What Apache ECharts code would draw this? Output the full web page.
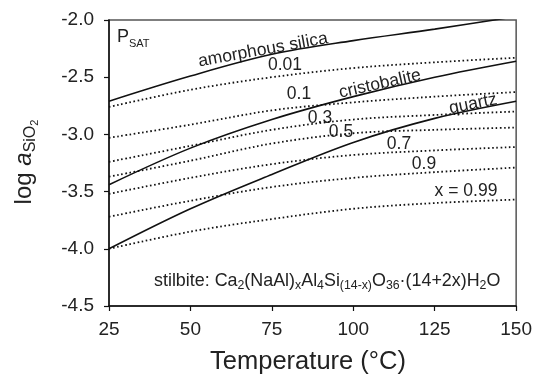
<!DOCTYPE html>
<html><head><meta charset="utf-8">
<script src="https://cdn.jsdelivr.net/npm/echarts@6/dist/echarts.min.js"></script>
<style>html,body{margin:0;padding:0;background:#fff}#c{width:535px;height:380px}</style>
</head><body><div id="c"></div>
<script>
// Temperature (°C) sample points
const temps = [25, 50, 75, 100, 125, 150];
// log a(SiO2) for silica phases (solid lines)
const amorphousSilica = [-2.71, -2.49, -2.30, -2.18, -2.08, -1.97];
const cristobalite    = [-3.44, -3.12, -2.87, -2.67, -2.50, -2.36];
const quartz          = [-4.00, -3.65, -3.35, -3.07, -2.86, -2.71];
// stilbite equilibria for composition x (dotted lines)
const x001 = [-2.76, -2.61, -2.50, -2.42, -2.37, -2.33];
const x01  = [-3.03, -2.915, -2.79, -2.72, -2.67, -2.63];
const x03  = [-3.24, -3.10, -2.96, -2.87, -2.83, -2.80];
const x05  = [-3.37, -3.23, -3.08, -2.99, -2.96, -2.94];
const x07  = [-3.52, -3.38, -3.26, -3.18, -3.14, -3.11];
const x09  = [-3.72, -3.58, -3.46, -3.38, -3.33, -3.29];
const x099 = [-4.00, -3.85, -3.74, -3.65, -3.60, -3.57];
const xTickLabels = ['25', '50', '75', '100', '125', '150'];
const yTickLabels = ['-4.5', '-4.0', '-3.5', '-3.0', '-2.5', '-2.0'];

const FONT = 'Liberation Sans, Arial, sans-serif';
const pts = arr => temps.map((t, i) => [t, arr[i]]);
const solid = (name, arr) => ({
  name, type: 'line', data: pts(arr), smooth: 0.35, symbol: 'none', silent: true,
  lineStyle: { color: '#111', width: 1.6, type: 'solid' }
});
const dotted = (name, arr) => ({
  name, type: 'line', data: pts(arr), smooth: 0.35, symbol: 'none', silent: true,
  lineStyle: { color: '#111', width: 1.8, type: [1.6, 2.6] }
});

const chart = echarts.init(document.getElementById('c'), null, { renderer: 'canvas' });

// token style; drop = pixels to shift the token's text downward (via top padding)
const tok = (size, drop, extra) => Object.assign({ fontSize: size, fontFamily: FONT, fill: '#222',
  padding: [drop * 2, 0, 0, 0] }, extra || {});

function txt(text, x, y, size, rot, align) {
  return {
    type: 'text', x, y, rotation: rot || 0, silent: true,
    style: { text, fill: '#222', font: size + 'px ' + FONT, align: align || 'center', verticalAlign: 'middle' }
  };
}

chart.setOption({
  animation: false,
  backgroundColor: '#fff',
  grid: { left: 109, right: 18, top: 20, bottom: 74, show: true, borderColor: '#555', borderWidth: 1.5, backgroundColor: 'transparent' },
  xAxis: {
    type: 'value', min: 25, max: 150, interval: 25,
    axisLine: { lineStyle: { color: '#111', width: 1.5 } },
    axisTick: { show: true, length: 5, lineStyle: { color: '#111', width: 1.2 } },
    axisLabel: { fontSize: 19, fontFamily: FONT, color: '#222', margin: 14,
      formatter: v => xTickLabels[temps.indexOf(v)] ?? String(v) },
    splitLine: { show: false }
  },
  yAxis: {
    type: 'value', min: -4.5, max: -2.0, interval: 0.5,
    axisLine: { show: true, lineStyle: { color: '#111', width: 1.5 } },
    axisTick: { show: true, length: 5, lineStyle: { color: '#111', width: 1.2 } },
    axisLabel: { fontSize: 19, fontFamily: FONT, color: '#222', margin: 15,
      formatter: v => yTickLabels[Math.round((v + 4.5) / 0.5)] ?? v.toFixed(1) },
    splitLine: { show: false }
  },
  series: [
    solid('amorphous silica', amorphousSilica),
    solid('cristobalite', cristobalite),
    solid('quartz', quartz),
    dotted('0.01', x001), dotted('0.1', x01), dotted('0.3', x03), dotted('0.5', x05),
    dotted('0.7', x07), dotted('0.9', x09), dotted('0.99', x099)
  ],
  graphic: [
    // x-axis title
    txt('Temperature (°C)', 308, 362, 25.5, 0),
    // y-axis title
    { type: 'text', x: 24, y: 162, rotation: Math.PI / 2, silent: true,
      style: { text: '{n|log }{i|a}{s|SiO}{ss|2}', align: 'center', verticalAlign: 'middle',
        rich: {
          n: tok(24, 0),
          i: tok(24, 0, { fontStyle: 'italic' }),
          s: tok(16, 7),
          ss: tok(11, 11)
        } } },
    // P_SAT
    { type: 'text', x: 117, y: 37, silent: true,
      style: { text: '{n|P}{s|SAT}', align: 'left', verticalAlign: 'middle',
        rich: { n: tok(18, 0), s: tok(11, 7) } } },
    txt('amorphous silica', 263, 50, 17.5, 0.18),
    txt('0.01', 285, 65, 17.5, 0),
    txt('0.1', 299, 94, 17.5, 0),
    txt('cristobalite', 380, 84, 17.5, 0.22),
    txt('0.3', 320, 118, 17.5, 0),
    txt('0.5', 341, 132, 17.5, 0),
    txt('quartz', 473, 104, 17.5, 0.2),
    txt('0.7', 399, 144, 17.5, 0),
    txt('0.9', 424, 164, 17.5, 0),
    txt('x = 0.99', 466, 191, 17.5, 0),
    // stilbite formula
    { type: 'text', x: 154, y: 281, silent: true,
      style: { text: '{n|stilbite: Ca}{s|2}{n|(NaAl)}{s|x}{n|Al}{s|4}{n|Si}{s|(14-x)}{n|O}{s|36}{n|·(14+2x)H}{s|2}{n|O}',
        align: 'left', verticalAlign: 'middle',
        rich: { n: tok(17.9, 0), s: tok(12.3, 5) } } }
  ]
});
</script>
</body></html>
